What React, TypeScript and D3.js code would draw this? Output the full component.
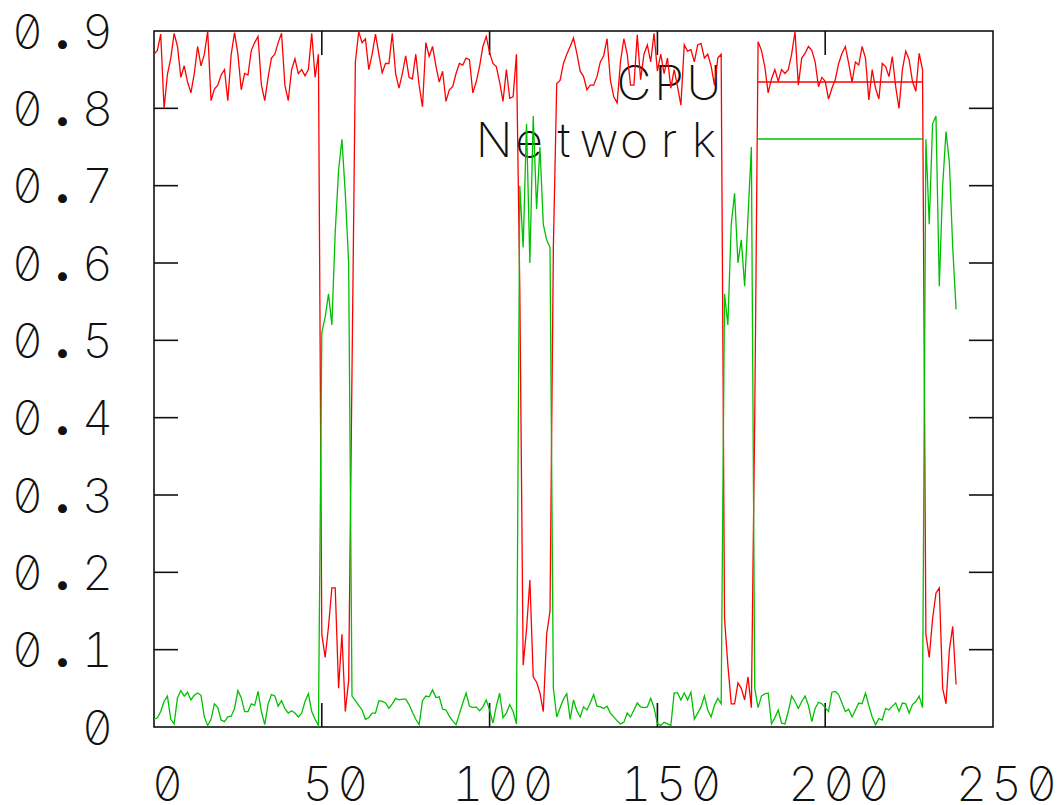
import * as d3 from "d3";

// time axis: one sample per unit, starting at 0
const cpuValues = [
  0.87, 0.875, 0.896, 0.8, 0.844, 0.865, 0.897, 0.88, 0.84, 0.855,
  0.834, 0.82, 0.845, 0.88, 0.855, 0.87, 0.9, 0.81, 0.825, 0.83,
  0.843, 0.85, 0.81, 0.87, 0.898, 0.87, 0.824, 0.845, 0.843, 0.875,
  0.885, 0.893, 0.83, 0.81, 0.84, 0.865, 0.87, 0.885, 0.897, 0.83,
  0.81, 0.85, 0.864, 0.845, 0.85, 0.842, 0.85, 0.897, 0.84, 0.87,
  0.12, 0.09, 0.13, 0.18, 0.18, 0.05, 0.12, 0.02, 0.06, 0.46,
  0.86, 0.899, 0.885, 0.89, 0.85, 0.87, 0.896, 0.87, 0.846, 0.858,
  0.858, 0.897, 0.845, 0.826, 0.845, 0.868, 0.84, 0.838, 0.87, 0.83,
  0.802, 0.885, 0.867, 0.88, 0.855, 0.834, 0.848, 0.809, 0.824, 0.828,
  0.845, 0.858, 0.856, 0.865, 0.863, 0.82, 0.834, 0.854, 0.88, 0.893,
  0.872, 0.858, 0.854, 0.834, 0.809, 0.85, 0.813, 0.815, 0.87, 0.565,
  0.08, 0.126, 0.19, 0.065, 0.058, 0.044, 0.02, 0.12, 0.15, 0.62,
  0.832, 0.836, 0.858, 0.87, 0.88, 0.891, 0.871, 0.848, 0.841, 0.824,
  0.83, 0.83, 0.841, 0.86, 0.868, 0.89, 0.836, 0.815, 0.807, 0.86,
  0.89, 0.87, 0.83, 0.83, 0.895, 0.837, 0.87, 0.882, 0.86, 0.897,
  0.848, 0.87, 0.845, 0.865, 0.826, 0.85, 0.828, 0.804, 0.882, 0.874,
  0.876, 0.86, 0.882, 0.884, 0.865, 0.87, 0.855, 0.83, 0.865, 0.87,
  0.14, 0.08, 0.03, 0.03, 0.057, 0.05, 0.035, 0.065, 0.025, 0.4,
  0.886, 0.875, 0.854, 0.82, 0.838, 0.85, 0.835, 0.85, 0.845, 0.85,
  0.87, 0.899, 0.83, 0.865, 0.871, 0.88, 0.875, 0.86, 0.828, 0.84,
  0.835, 0.812, 0.826, 0.837, 0.858, 0.871, 0.88, 0.858, 0.834, 0.86,
  0.856, 0.88, 0.865, 0.811, 0.85, 0.826, 0.812, 0.858, 0.854, 0.841,
  0.867, 0.828, 0.8, 0.85, 0.874, 0.863, 0.835, 0.822, 0.871, 0.85,
  0.12, 0.09, 0.14, 0.173, 0.18, 0.05, 0.03, 0.1, 0.13, 0.055,
];

const networkValues = [
  0.01, 0.012, 0.02, 0.033, 0.04, 0.01, 0.004, 0.038, 0.047, 0.04,
  0.045, 0.035, 0.041, 0.044, 0.041, 0.013, 0.002, 0.01, 0.03, 0.025,
  0.009, 0.007, 0.013, 0.014, 0.024, 0.047, 0.038, 0.02, 0.02, 0.03,
  0.028, 0.046, 0.02, 0.003, 0.03, 0.042, 0.04, 0.027, 0.034, 0.024,
  0.018, 0.021, 0.018, 0.013, 0.018, 0.033, 0.043, 0.02, 0.01, 0.002,
  0.51, 0.53, 0.56, 0.52, 0.64, 0.72, 0.76, 0.69, 0.6, 0.04,
  0.034, 0.028, 0.022, 0.01, 0.012, 0.018, 0.018, 0.034, 0.033, 0.031,
  0.024, 0.03, 0.037, 0.035, 0.036, 0.036, 0.029, 0.019, 0.01, 0.003,
  0.034, 0.04, 0.039, 0.048, 0.038, 0.039, 0.023, 0.022, 0.014, 0.008,
  0.003, 0.017, 0.031, 0.044, 0.027, 0.025, 0.026, 0.021, 0.026, 0.035,
  0.022, 0.005, 0.027, 0.044, 0.012, 0.018, 0.029, 0.02, 0.004, 0.7,
  0.62, 0.78, 0.6, 0.79, 0.67, 0.75, 0.65, 0.63, 0.62, 0.05,
  0.013, 0.025, 0.036, 0.043, 0.01, 0.035, 0.021, 0.013, 0.026, 0.022,
  0.031, 0.042, 0.027, 0.026, 0.024, 0.027, 0.018, 0.013, 0.008, 0.004,
  0.006, 0.018, 0.013, 0.022, 0.031, 0.026, 0.025, 0.026, 0.037, 0.025,
  0.004, 0.002, 0.006, 0.004, 0.002, 0.044, 0.044, 0.035, 0.044, 0.035,
  0.045, 0.01, 0.018, 0.026, 0.04, 0.022, 0.013, 0.028, 0.037, 0.03,
  0.56, 0.52, 0.65, 0.69, 0.6, 0.63, 0.57, 0.66, 0.75, 0.05,
  0.025, 0.04, 0.043, 0.044, 0.004, 0.012, 0.022, 0.005, 0.004, 0.02,
  0.04, 0.033, 0.024, 0.033, 0.04, 0.028, 0.007, 0.024, 0.032, 0.03,
  0.025, 0.02, 0.045, 0.046, 0.042, 0.031, 0.02, 0.023, 0.013, 0.022,
  0.031, 0.03, 0.044, 0.028, 0.013, 0.003, 0.011, 0.009, 0.024, 0.022,
  0.027, 0.031, 0.02, 0.031, 0.03, 0.018, 0.029, 0.033, 0.04, 0.025,
  0.76, 0.65, 0.78, 0.79, 0.57, 0.7, 0.77, 0.73, 0.62, 0.54,
];

const xTicks = [0, 50, 100, 150, 200, 250];
const yTicks = [0, 0.1, 0.2, 0.3, 0.4, 0.5, 0.6, 0.7, 0.8, 0.9];
const seriesNames = ["CPU", "Network"];
const seriesColors = ["#ff0000", "#00c000"];

const W = 1057;
const H = 805;
const plot = { left: 154, right: 993, top: 31, bottom: 727 };
const tickLen = 24;
const cell = 35; // gnuplot-ish fixed character cell
const fontSize = 48;
const capHalf = 17.5;

// split a label into fixed-width character cells
function Chars({ text, firstCx, baseline }: { text: string; firstCx: number; baseline: number }) {
  return (
    <>
      {text.split("").map((ch, i) => (
        <text
          key={i}
          x={firstCx + i * cell}
          y={baseline}
          textAnchor="middle"
          fontWeight={ch === "." ? 800 : 200}
        >
          {ch}
        </text>
      ))}
    </>
  );
}

export default function App() {
  const x = d3.scaleLinear().domain([0, 250]).range([plot.left, plot.right]);
  const y = d3.scaleLinear().domain([0, 0.9]).range([plot.bottom, plot.top]);

  const line = d3
    .line<number>()
    .x((_, i) => x(i))
    .y((d) => y(d));

  const series = [cpuValues, networkValues];
  const legendRowY = [82, 139];
  const legendLastCx = 704;
  const sampleX = [758, 923];

  return (
    <svg
      width={W}
      height={H}
      style={{ position: "absolute", left: 0, top: 0, background: "#fff" }}
      fontFamily="Inter, 'DejaVu Sans', sans-serif"
      fontSize={fontSize}
    >
      <g fill="#111" style={{ fontFeatureSettings: '"zero" 1, "tnum" 1' }}>
        {yTicks.map((t) => {
          const label = t === 0 ? "0" : d3.format(".1f")(t);
          return (
            <Chars
              key={"y" + t}
              text={label}
              firstCx={97.5 - (label.length - 1) * cell}
              baseline={y(t) + capHalf}
            />
          );
        })}
        {xTicks.map((t) => {
          const label = String(t);
          return (
            <Chars
              key={"x" + t}
              text={label}
              firstCx={x(t) + 13.5 - ((label.length - 1) * cell) / 2}
              baseline={783.5 + capHalf}
            />
          );
        })}
      </g>

      <g stroke="#111" strokeWidth={1.6} fill="none">
        {yTicks.slice(1, -1).map((t) => (
          <g key={"yt" + t}>
            <line x1={plot.left} x2={plot.left + tickLen} y1={y(t)} y2={y(t)} />
            <line x1={plot.right} x2={plot.right - tickLen} y1={y(t)} y2={y(t)} />
          </g>
        ))}
        {xTicks.slice(1, -1).map((t) => (
          <g key={"xt" + t}>
            <line x1={x(t)} x2={x(t)} y1={plot.bottom} y2={plot.bottom - tickLen} />
            <line x1={x(t)} x2={x(t)} y1={plot.top} y2={plot.top + tickLen} />
          </g>
        ))}
        <rect
          x={plot.left}
          y={plot.top}
          width={plot.right - plot.left}
          height={plot.bottom - plot.top}
        />
      </g>

      {series.map((vals, si) => (
        <g key={seriesNames[si]}>
          <g fill="#111" style={{ fontFeatureSettings: '"zero" 1' }}>
            <Chars
              text={seriesNames[si]}
              firstCx={legendLastCx - (seriesNames[si].length - 1) * cell}
              baseline={legendRowY[si] + capHalf}
            />
          </g>
          <line
            x1={sampleX[0]}
            x2={sampleX[1]}
            y1={legendRowY[si]}
            y2={legendRowY[si]}
            stroke={seriesColors[si]}
            strokeWidth={1.3}
          />
          <path
            d={line(vals) ?? ""}
            fill="none"
            stroke={seriesColors[si]}
            strokeWidth={1.3}
          />
        </g>
      ))}
    </svg>
  );
}
